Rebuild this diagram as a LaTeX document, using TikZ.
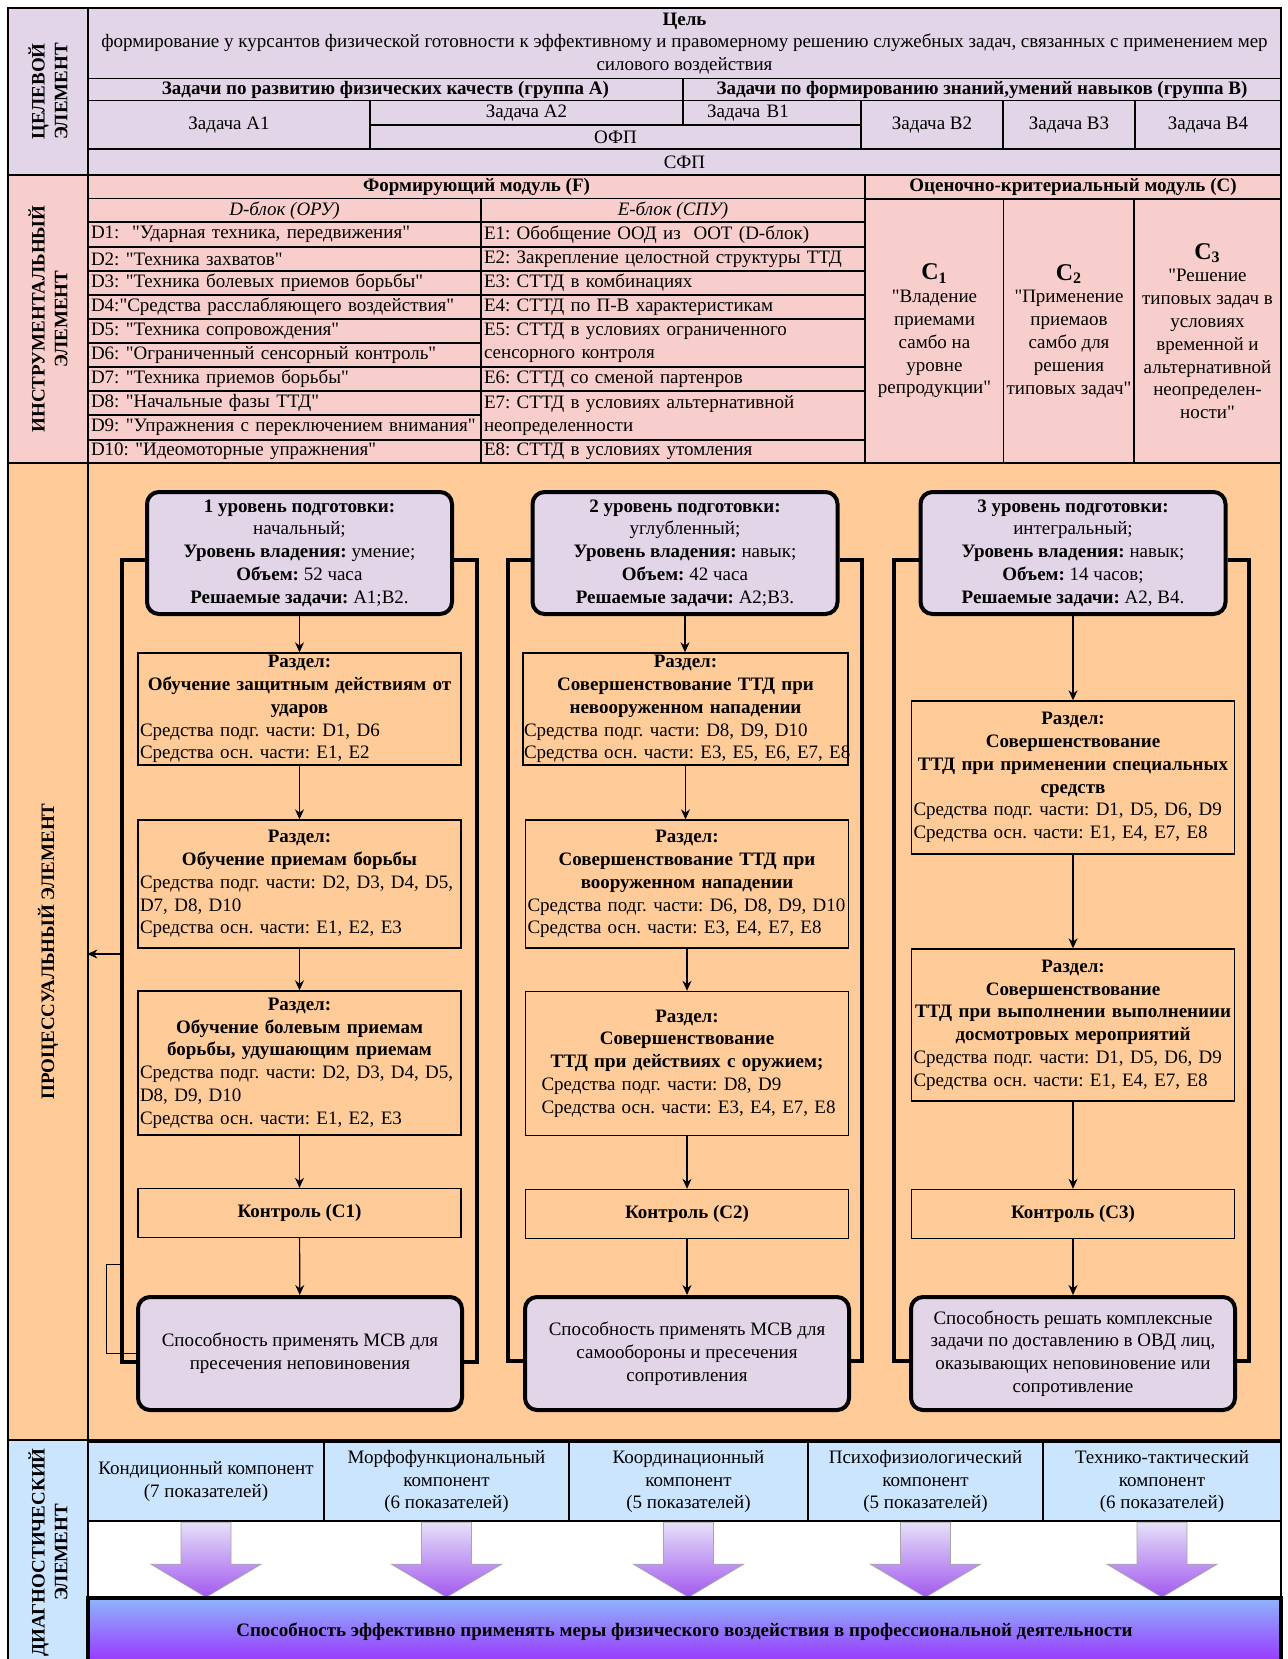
\documentclass[tikz,border=0pt]{standalone}
\usepackage{fontspec}
\setmainfont{Liberation Serif}[Ligatures=TeXOff]
\frenchspacing
\usetikzlibrary{arrows.meta, positioning}

\newcommand{\basefont}{\fontsize{9.5}{11.4}\selectfont}

\definecolor{goalfill}{HTML}{E1D5E7}
\definecolor{instfill}{HTML}{F8CECC}
\definecolor{procfill}{HTML}{FFCC99}
\definecolor{diagfill}{HTML}{CCE5FF}
\definecolor{arrtop}{HTML}{E6E0F8}
\definecolor{arrbot}{HTML}{A259F0}
\definecolor{bartop}{HTML}{8DB6FA}
\definecolor{barbot}{HTML}{9B30FF}

\pgfdeclarelayer{bg}
\pgfdeclarelayer{behind}
\pgfsetlayers{bg,behind,main}

\tikzstyle{cell} = [rectangle, draw, line width=0.6pt, inner sep=1.5pt, align=center]
\tikzstyle{goalcell} = [cell, fill=goalfill]
\tikzstyle{instcell} = [cell, fill=instfill]
\tikzstyle{drow} = [instcell, align=left, text width=193.5pt]
\tikzstyle{erow} = [instcell, align=left, text width=189pt]
\tikzstyle{sidecell} = [cell, rotate=90, font=\basefont\bfseries]
\tikzstyle{level} = [rectangle, draw, rounded corners=6pt, line width=2pt, fill=goalfill, align=center, inner sep=1pt, minimum width=152.5pt, minimum height=61pt]
\tikzstyle{razdel} = [rectangle, draw, line width=0.7pt, fill=procfill, align=left, inner xsep=1pt, inner ysep=1pt, text width=159.5pt]
\tikzstyle{kontrol} = [rectangle, draw, line width=0.7pt, fill=procfill, minimum width=161.5pt, minimum height=24.5pt, font=\basefont\bfseries]
\tikzstyle{result} = [level, minimum width=162pt, minimum height=56.5pt]
\tikzstyle{flow} = [-{Stealth[length=5pt, width=4.5pt]}, line width=0.6pt]
\tikzstyle{loopline} = [line width=2pt]
\tikzstyle{thinline} = [line width=0.5pt]
\tikzstyle{comp} = [cell, fill=diagfill, line width=1.2pt]
\tikzstyle{blockarrow} = [draw=gray!70, line width=0.4pt, top color=arrtop, bottom color=arrbot]
\tikzstyle{resultbar} = [cell, line width=2pt, top color=bartop, bottom color=barbot, font=\basefont\bfseries]

% ячейка таблицы: имя, x1, y1, x2, y2, текст
\newcommand{\tabcell}[7][cell]{%
  \node[#1, minimum width={(#5-#3)*0.5pt}, minimum height={(#6-#4)*0.5pt}] (#2) at ({(#3+#5)/2},{(#4+#6)/2}) {#7};}

\begin{document}
\begin{tikzpicture}[x=0.5pt, y=-0.5pt, font=\basefont]
  \useasboundingbox (0,0) rectangle (1287,1659);

  % Целевой элемент
  \node[sidecell, fill=goalfill, minimum width=83.5pt, minimum height=40pt] (goalL) at (48,91.5) {ЦЕЛЕВОЙ\\ЭЛЕМЕНТ};
  \tabcell[goalcell]{goal}{88}{8}{1281}{79}{\textbf{Цель}\\формирование у курсантов физической готовности к эффективному и правомерному решению служебных задач, связанных с применением мер\\силового воздействия}
  \tabcell[goalcell]{grA}{88}{79}{683}{100.5}{\textbf{Задачи по развитию физических качеств (группа А)}}
  \tabcell[goalcell]{grB}{683}{79}{1281}{100.5}{\textbf{Задачи по формированию знаний,умений навыков (группа В)}}
  \tabcell[goalcell]{tA1}{88}{100.5}{370}{149}{Задача А1}
  \tabcell[goalcell]{tA2}{370}{100.5}{683}{125}{Задача А2}
  \tabcell[goalcell, align=left, text width=86pt]{tB1}{683}{100.5}{861}{125}{\hspace*{10.5pt}Задача В1}
  \tabcell[goalcell]{ofp}{370}{125}{861}{149}{ОФП}
  \tabcell[goalcell]{tB2}{861}{100.5}{1003}{149}{Задача В2}
  \tabcell[goalcell]{tB3}{1003}{100.5}{1135}{149}{Задача В3}
  \tabcell[goalcell]{tB4}{1135}{100.5}{1281}{149}{Задача В4}
  \tabcell[goalcell]{sfp}{88}{149}{1281}{175}{СФП}

  % Инструментальный элемент
  \node[sidecell, fill=instfill, minimum width=144pt, minimum height=40pt] (instL) at (48,319) {ИНСТРУМЕНТАЛЬНЫЙ\\ЭЛЕМЕНТ};
  \tabcell[instcell]{modF}{88}{175}{865}{199}{\textbf{Формирующий модуль (F)}}
  \tabcell[instcell]{modC}{865}{175}{1281}{199}{\textbf{Оценочно-критериальный модуль (С)}}
  \tabcell[instcell]{blkD}{88}{199}{481}{222}{\textit{D-блок (ОРУ)}}
  \tabcell[instcell]{blkE}{481}{199}{865}{222}{\textit{E-блок (СПУ)}}

  \tabcell[drow]{d1}{88}{222}{481}{247}{D1:\ \ "Ударная техника, передвижения"}
  \tabcell[drow]{d2}{88}{247}{481}{271}{D2: "Техника захватов"}
  \tabcell[drow]{d3}{88}{271}{481}{295}{D3: "Техника болевых приемов борьбы"}
  \tabcell[drow]{d4}{88}{295}{481}{319}{D4:"Средства расслабляющего воздействия"}
  \tabcell[drow]{d5}{88}{319}{481}{343}{D5: "Техника сопровождения"}
  \tabcell[drow]{d6}{88}{343}{481}{367}{D6: "Ограниченный сенсорный контроль"}
  \tabcell[drow]{d7}{88}{367}{481}{391}{D7: "Техника приемов борьбы"}
  \tabcell[drow]{d8}{88}{391}{481}{415}{D8: "Начальные фазы ТТД"}
  \tabcell[drow]{d9}{88}{415}{481}{440}{D9: "Упражнения с переключением внимания"}
  \tabcell[drow]{d10}{88}{440}{481}{463}{D10: "Идеомоторные упражнения"}

  \tabcell[erow]{e1}{481}{222}{865}{247}{E1: Обобщение ООД из\ \ ООТ (D-блок)}
  \tabcell[erow]{e2}{481}{247}{865}{271}{E2: Закрепление целостной структуры ТТД}
  \tabcell[erow]{e3}{481}{271}{865}{295}{E3: СТТД в комбинациях}
  \tabcell[erow]{e4}{481}{295}{865}{319}{E4: СТТД по П-В характеристикам}
  \tabcell[erow]{e5}{481}{319}{865}{367}{E5: СТТД в условиях ограниченного\\сенсорного контроля}
  \tabcell[erow]{e6}{481}{367}{865}{391}{E6: СТТД со сменой партенров}
  \tabcell[erow]{e7}{481}{391}{865}{440}{E7: СТТД в условиях альтернативной\\неопределенности}
  \tabcell[erow]{e8}{481}{440}{865}{463}{E8: СТТД в условиях утомления}

  \tabcell[instcell]{crC1}{865}{199}{1004}{463}{{\large\bfseries С\textsubscript{1}}\\"Владение\\приемами\\самбо на\\уровне\\репродукции"}
  \tabcell[instcell]{crC2}{1004}{199}{1134}{463}{{\large\bfseries С\textsubscript{2}}\\"Применение\\приемаов\\самбо для\\решения\\типовых задач"}
  \tabcell[instcell]{crC3}{1134}{199}{1281}{463}{{\large\bfseries С\textsubscript{3}}\\"Решение\\типовых задач в\\условиях\\временной и\\альтернативной\\неопределен-\\ности"}

  % Процессуальный элемент
  \begin{pgfonlayer}{bg}
    \tabcell[cell, fill=procfill]{procArea}{88}{463}{1281}{1440}{}
  \end{pgfonlayer}
  \node[sidecell, fill=procfill, minimum width=488.5pt, minimum height=40pt] (procL) at (48,951.5) {ПРОЦЕССУАЛЬНЫЙ ЭЛЕМЕНТ};

  % уровни подготовки
  \node[level] (L1) at (299.5,553) {\textbf{1 уровень подготовки:}\\начальный;\\\textbf{Уровень владения:} умение;\\\textbf{Объем:} 52 часа\\\textbf{Решаемые задачи:} A1;B2.};
  \node[level] (L2) at (685,553) {\textbf{2 уровень подготовки:}\\углубленный;\\\textbf{Уровень владения:} навык;\\\textbf{Объем:} 42 часа\\\textbf{Решаемые задачи:} A2;B3.};
  \node[level] (L3) at (1073,553) {\textbf{3 уровень подготовки:}\\интегральный;\\\textbf{Уровень владения:} навык;\\\textbf{Объем:} 14 часов;\\\textbf{Решаемые задачи:} A2, B4.};

  % разделы, 1 уровень
  \node[razdel, minimum height=56pt] (S11) at (299.5,709) {{\centering\textbf{Раздел:}\\\textbf{Обучение защитным действиям от}\\\textbf{ударов}\par}Средства подг. части: D1, D6\\Средства осн. части: E1, E2};
  \node[razdel, minimum height=64pt] (S12) at (299.5,884) {{\centering\textbf{Раздел:}\\\textbf{Обучение приемам борьбы}\par}Средства подг. части: D2, D3, D4, D5,\\D7, D8, D10\\Средства осн. части: E1, E2, E3};
  \node[razdel, minimum height=72pt] (S13) at (299.5,1063) {{\centering\textbf{Раздел:}\\\textbf{Обучение болевым приемам}\\\textbf{борьбы, удушающим приемам}\par}Средства подг. части: D2, D3, D4, D5,\\D8, D9, D10\\Средства осн. части: E1, E2, E3};
  \node[kontrol] (K1) at (299.5,1213) {Контроль (С1)};
  \node[result] (R1) at (300,1353.5) {Способность применять МСВ для\\пресечения неповиновения};

  % разделы, 2 уровень
  \node[razdel, minimum height=56pt, inner xsep=0.5pt, text width=161.5pt] (S21) at (685.5,709) {{\centering\textbf{Раздел:}\\\textbf{Совершенствование ТТД при}\\\textbf{невооруженном нападении}\par}Средства подг. части: D8, D9, D10\\\mbox{Средства осн. части: E3, E5, E6, E7, E8}};
  \node[razdel, minimum height=64pt] (S22) at (687,884) {{\centering\textbf{Раздел:}\\\textbf{Совершенствование ТТД при}\\\textbf{вооруженном нападении}\par}Средства подг. части: D6, D8, D9, D10\\Средства осн. части: E3, E4, E7, E8};
  \node[razdel, minimum height=72pt] (S23) at (687,1063.5) {{\centering\textbf{Раздел:}\\\textbf{Совершенствование}\\\textbf{ТТД при действиях с оружием;}\par}\hspace*{7pt}Средства подг. части: D8, D9\\\hspace*{7pt}Средства осн. части: E3, E4, E7, E8};
  \node[kontrol] (K2) at (687,1214) {Контроль (С2)};
  \node[result] (R2) at (687,1353.5) {Способность применять МСВ для\\самообороны и пресечения\\сопротивления};

  % разделы, 3 уровень
  \node[razdel, minimum height=76.5pt] (S31) at (1073,777.5) {{\centering\textbf{Раздел:}\\\textbf{Совершенствование}\\\textbf{ТТД при применении специальных}\\\textbf{средств}\par}Средства подг. части: D1, D5, D6, D9\\Средства осн. части: E1, E4, E7, E8};
  \node[razdel, minimum height=76pt] (S32) at (1073,1025) {{\centering\textbf{Раздел:}\\\textbf{Совершенствование}\\\textbf{ТТД при выполнении выполнениии}\\\textbf{досмотровых мероприятий}\par}Средства подг. части: D1, D5, D6, D9\\Средства осн. части: E1, E4, E7, E8};
  \node[kontrol] (K3) at (1073,1214) {Контроль (С3)};
  \node[result] (R3) at (1073,1353.5) {Способность решать комплексные\\задачи по доставлению в ОВД лиц,\\оказывающих неповиновение или\\сопротивление};

  % связи
  \draw[flow] (L1) -- (S11);
  \draw[flow] (S11) -- (S12);
  \draw[flow] (S12) -- (S13);
  \draw[flow] (S13) -- (K1);
  \draw[flow] (K1) -- (R1);
  \draw[flow] (L2.south) -- (L2.south |- S21.north);
  \draw[flow] (S21.south) -- (S21.south |- S22.north);
  \draw[flow] (S22) -- (S23);
  \draw[flow] (S23) -- (K2);
  \draw[flow] (K2) -- (R2);
  \draw[flow] (L3) -- (S31);
  \draw[flow] (S31) -- (S32);
  \draw[flow] (S32) -- (K3);
  \draw[flow] (K3) -- (R3);

  % контуры уровней
  \begin{pgfonlayer}{behind}
    \draw[loopline] (L1.west |- 0,560) -| (122,1362) -- (R1.west |- 0,1362);
    \draw[loopline] (L1.east |- 0,560) -| (477,1362) -- (R1.east |- 0,1362);
    \draw[loopline] (L2.west |- 0,560) -| (508,1361) -- (R2.west |- 0,1361);
    \draw[loopline] (L2.east |- 0,560) -| (862,1361) -- (R2.east |- 0,1361);
    \draw[loopline] (L3.west |- 0,560) -| (894,1361) -- (R3.west |- 0,1361);
    \draw[loopline] (L3.east |- 0,560) -| (1249,1361) -- (R3.east |- 0,1361);
  \end{pgfonlayer}

  % обратная связь
  \coordinate (fbTop) at (122,1264);
  \coordinate (fbOut) at (122,954);
  \draw[thinline] (R1.west) -| (106,1264) -- (fbTop);
  \draw[flow] (fbOut) -- (fbOut -| procArea.west);

  % Диагностический элемент
  \node[sidecell, fill=diagfill, minimum width=112.5pt, minimum height=40pt] (diagL) at (48,1552.5) {ДИАГНОСТИЧЕСКИЙ\\ЭЛЕМЕНТ};
  \tabcell[cell, fill=white]{diagArea}{88}{1440}{1281}{1665}{}
  \tabcell[comp]{dk1}{88}{1442}{324}{1521}{Кондиционный компонент\\(7 показателей)}
  \tabcell[comp]{dk2}{324}{1442}{569}{1521}{Морфофункциональный\\компонент\\(6 показателей)}
  \tabcell[comp]{dk3}{569}{1442}{808}{1521}{Координационный\\компонент\\(5 показателей)}
  \tabcell[comp]{dk4}{808}{1442}{1043}{1521}{Психофизиологический\\компонент\\(5 показателей)}
  \tabcell[comp]{dk5}{1043}{1442}{1281}{1521}{Технико-тактический\\компонент\\(6 показателей)}

  \foreach \k in {1,...,5}
    \draw[blockarrow] ([xshift=-12.5pt]dk\k.south) -- ++(50,0) -- ++(0,42) -- ++(30,0) -- ++(-55,33) -- ++(-55,-33) -- ++(30,0) -- cycle;

  \tabcell[resultbar]{bar}{88}{1598}{1281}{1665}{Способность эффективно применять меры физического воздействия в профессиональной деятельности}
\end{tikzpicture}
\end{document}
